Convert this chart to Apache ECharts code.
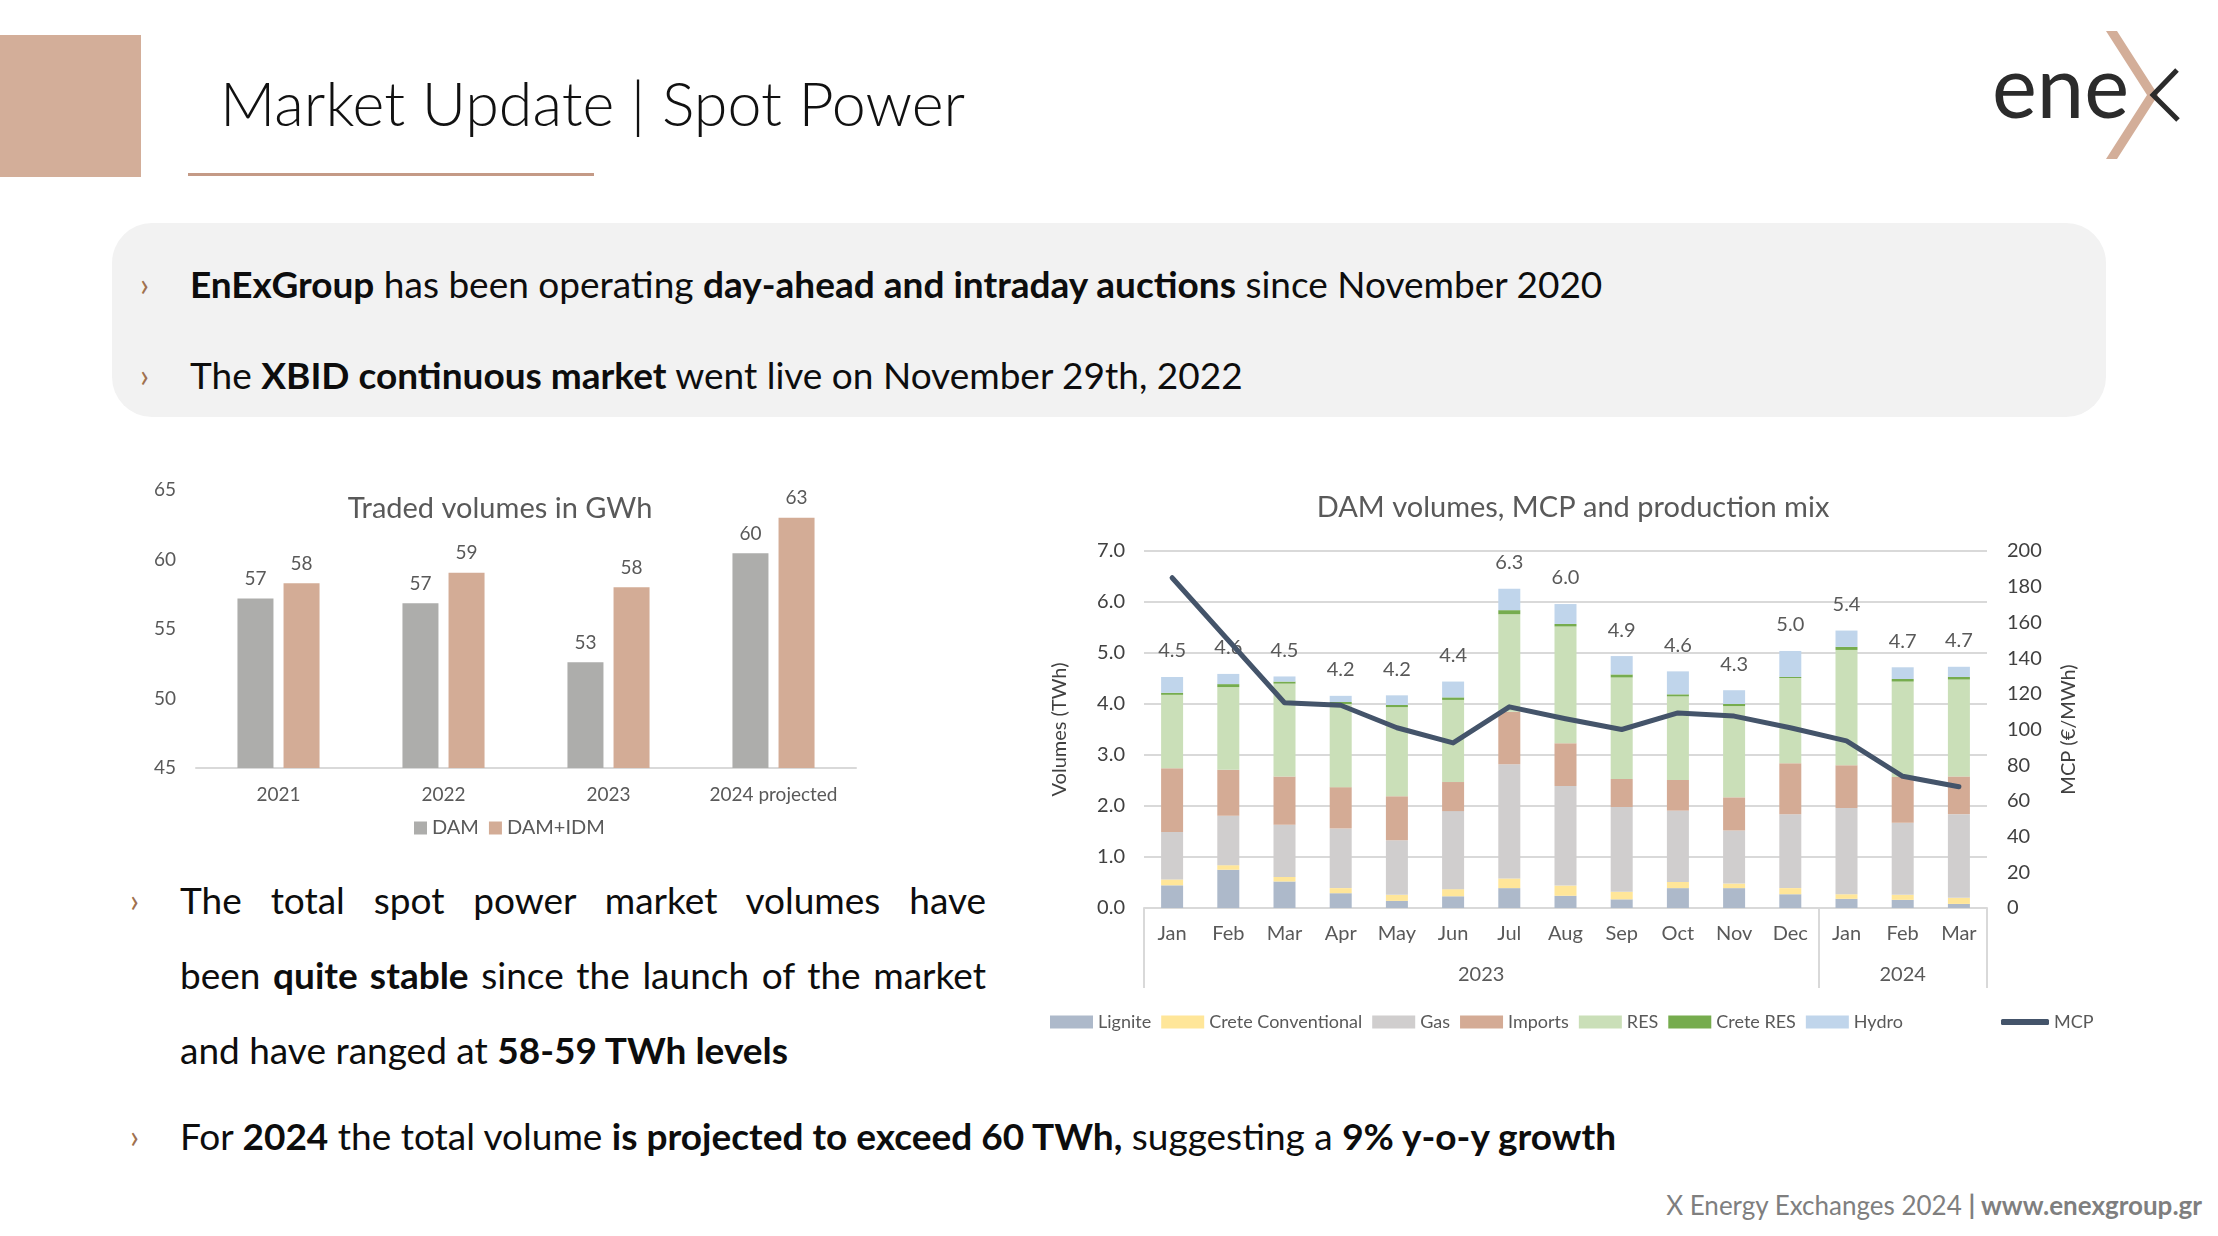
<!DOCTYPE html>
<html>
<head>
<meta charset="utf-8">
<title>Market Update | Spot Power</title>
<script src="https://cdn.jsdelivr.net/npm/echarts@6/dist/echarts.min.js"></script>
<style>
  html, body { margin: 0; padding: 0; width: 2218px; height: 1236px; background: #fff; overflow: hidden; }
  body { font-family: Lato, "Open Sans", sans-serif; color: #0d0d0d; position: relative; }
  .abs { position: absolute; }
  .line { position: absolute; white-space: nowrap; font-size: 37px; height: 50px; line-height: 50px; }
  .chev { position: absolute; font-size: 32px; color: #a0714f; height: 50px; line-height: 50px; }
  .just { text-align: justify; text-align-last: justify; white-space: normal; }
  b { font-weight: 700; }
  #chart { position: absolute; left: 0; top: 0; width: 2218px; height: 1236px; }
</style>
</head>
<body>
<!-- slide frame -->
<div class="abs" style="left:0;top:35px;width:141px;height:142px;background:#d3ae99;"></div>
<div class="abs" style="left:220px;top:62px;height:82px;line-height:82px;font-size:61px;font-weight:300;color:#111;white-space:nowrap;">Market Update | Spot Power</div>
<div class="abs" style="left:188px;top:173px;width:406px;height:3px;background:#c49a86;"></div>

<svg class="abs" style="left:1960px;top:20px;" width="240" height="150" viewBox="1960 20 240 150">
  <text x="1992" y="118" font-family="Lato, sans-serif" font-weight="400" font-size="88" fill="#2b2b2b" textLength="137" lengthAdjust="spacingAndGlyphs">ene</text>
  <polygon points="2106,31 2117,31 2158,95 2117,159 2106,159 2147,95" fill="#d3ae99"/>
  <polyline points="2177,70 2153,95 2178,120" fill="none" stroke="#2b2b2b" stroke-width="5"/>
</svg>

<div class="abs" style="left:112px;top:223px;width:1994px;height:194px;border-radius:40px;background:#f2f2f2;"></div>
<div class="chev" style="left:140px;top:259px;">›</div>
<div class="line" style="left:190px;top:259px;"><b>EnExGroup</b> has been operating <b>day-ahead and intraday auctions</b> since November 2020</div>
<div class="chev" style="left:140px;top:350px;">›</div>
<div class="line" style="left:190px;top:350px;">The <b>XBID continuous market</b> went live on November 29th, 2022</div>

<div class="chev" style="left:130px;top:875px;">›</div>
<div class="line just" style="left:180px;top:875px;width:806px;">The total spot power market volumes have</div>
<div class="line just" style="left:180px;top:950px;width:806px;">been <b>quite stable</b> since the launch of the market</div>
<div class="line" style="left:180px;top:1025px;">and have ranged at <b>58-59 TWh levels</b></div>
<div class="chev" style="left:130px;top:1111px;">›</div>
<div class="line" style="left:180px;top:1111px;">For <b>2024</b> the total volume <b>is projected to exceed 60 TWh,</b> suggesting a <b>9% y-o-y growth</b></div>

<div class="abs" style="right:16px;top:1190px;height:30px;line-height:30px;font-size:26px;color:#7f7f7f;white-space:nowrap;">X Energy Exchanges 2024 <b>| www.enexgroup.gr</b></div>

<div id="chart"></div>
<script>
// ---- Traded volumes (left chart) ----
var tradeYears = ['2021', '2022', '2023', '2024 projected'];
var damVolume = [57.2, 56.85, 52.6, 60.45];
var damIdmVolume = [58.3, 59.05, 58.0, 63.0];
var tradeTicks = [45, 50, 55, 60, 65];

// ---- DAM volumes, MCP and production mix (right chart) ----
var months = ['Jan', 'Feb', 'Mar', 'Apr', 'May', 'Jun', 'Jul', 'Aug', 'Sep', 'Oct', 'Nov', 'Dec', 'Jan', 'Feb', 'Mar'];
var periodYears = ['2023', '2024'];
var periodMonths = [12, 3];
var lignite   = [0.445, 0.75, 0.52, 0.29, 0.14, 0.23, 0.39, 0.24, 0.17, 0.39, 0.39, 0.27, 0.18, 0.16, 0.08];
var creteConv = [0.115, 0.09, 0.09, 0.10, 0.12, 0.14, 0.19, 0.20, 0.15, 0.12, 0.09, 0.12, 0.09, 0.10, 0.12];
var gas       = [0.93, 0.97, 1.02, 1.17, 1.07, 1.53, 2.24, 1.95, 1.66, 1.40, 1.04, 1.45, 1.69, 1.41, 1.64];
var imports   = [1.25, 0.90, 0.95, 0.81, 0.86, 0.57, 1.03, 0.84, 0.55, 0.60, 0.65, 1.00, 0.84, 0.90, 0.74];
var res       = [1.44, 1.62, 1.82, 1.63, 1.75, 1.61, 1.91, 2.29, 1.99, 1.64, 1.79, 1.67, 2.26, 1.87, 1.90];
var creteRes  = [0.04, 0.06, 0.04, 0.04, 0.04, 0.05, 0.08, 0.05, 0.06, 0.04, 0.04, 0.02, 0.06, 0.05, 0.05];
var hydro     = [0.31, 0.20, 0.10, 0.12, 0.19, 0.31, 0.42, 0.39, 0.36, 0.45, 0.27, 0.51, 0.32, 0.23, 0.20];
var mcp       = [185, 150, 115, 113.6, 101, 92.5, 112.7, 106, 100, 109.3, 107.5, 101, 93.6, 73.8, 67.9];

var mixSeries = [
  { name: 'Lignite', data: lignite, color: '#adb9ca' },
  { name: 'Crete Conventional', data: creteConv, color: '#ffe699' },
  { name: 'Gas', data: gas, color: '#d0cece' },
  { name: 'Imports', data: imports, color: '#d4ab95' },
  { name: 'RES', data: res, color: '#cadfb8' },
  { name: 'Crete RES', data: creteRes, color: '#76ac4e' },
  { name: 'Hydro', data: hydro, color: '#c0d5eb' }
];

var totals = months.map(function (m, i) {
  var s = 0;
  mixSeries.forEach(function (ser) { s += ser.data[i]; });
  return Math.round(s * 10) / 10;
});

// year level of the two-level category axis, on half-month steps
var yearAxisData = [];
var yearLabelAt = {};
var yearTickAt = { 0: true };
var pos = 0;
periodYears.forEach(function (y, i) {
  yearLabelAt[pos + periodMonths[i]] = y;
  pos += periodMonths[i] * 2;
  yearTickAt[pos] = true;
});
for (var k = 0; k <= months.length * 2; k++) {
  yearAxisData.push(yearLabelAt[k] || '');
}

var FONT = 'Lato, "Open Sans", sans-serif';
var grey = '#595959';
var dark = '#404040';
var gridLine = '#d9d9d9';

var myChart = echarts.init(document.getElementById('chart'));

var series = [
  {
    name: 'DAM', type: 'bar', xAxisIndex: 0, yAxisIndex: 0,
    data: damVolume, barWidth: 36, barGap: '28%',
    itemStyle: { color: '#adadab' },
    label: { show: true, position: 'top', distance: 10, color: grey, fontSize: 19, fontFamily: FONT,
      formatter: function (p) { return Math.round(p.value); } }
  },
  {
    name: 'DAM+IDM', type: 'bar', xAxisIndex: 0, yAxisIndex: 0,
    data: damIdmVolume, barWidth: 36,
    itemStyle: { color: '#d3ac96' },
    label: { show: true, position: 'top', distance: 10, color: grey, fontSize: 19, fontFamily: FONT,
      formatter: function (p) { return Math.round(p.value); } }
  }
];

mixSeries.forEach(function (s, idx) {
  var ser = {
    name: s.name, type: 'bar', stack: 'mix', xAxisIndex: 1, yAxisIndex: 1,
    data: s.data, barWidth: 22,
    itemStyle: { color: s.color }
  };
  if (idx === mixSeries.length - 1) {
    ser.label = {
      show: true, position: 'top', distance: 16, color: grey, fontSize: 20, fontFamily: FONT,
      formatter: function (p) { return totals[p.dataIndex].toFixed(1); }
    };
  }
  series.push(ser);
});

series.push({
  name: 'MCP', type: 'line', xAxisIndex: 1, yAxisIndex: 2,
  data: mcp, symbol: 'none', z: 5,
  lineStyle: { color: '#44546a', width: 5, cap: 'round', join: 'round' },
  itemStyle: { color: '#44546a' }
});

var option = {
  animation: false,
  textStyle: { fontFamily: FONT },
  title: [
    { text: 'Traded volumes in GWh', left: 495, top: 489, textAlign: 'center',
      textStyle: { fontSize: 29, fontWeight: 'normal', color: grey, fontFamily: FONT } },
    { text: 'DAM volumes, MCP and production mix', left: 1568, top: 488, textAlign: 'center',
      textStyle: { fontSize: 29, fontWeight: 'normal', color: grey, fontFamily: FONT } }
  ],
  legend: [
    { data: ['DAM', 'DAM+IDM'], left: 409, top: 813, icon: 'rect', itemWidth: 13, itemHeight: 13, itemGap: 10,
      textStyle: { color: grey, fontSize: 20, fontFamily: FONT } },
    { data: mixSeries.map(function (s) { return s.name; }), left: 1045, top: 1008, icon: 'rect',
      itemWidth: 43, itemHeight: 13, itemGap: 10,
      textStyle: { color: grey, fontSize: 18, fontFamily: FONT } },
    { data: ['MCP'], left: 1996, top: 1008, icon: 'roundRect', itemWidth: 48, itemHeight: 6,
      textStyle: { color: grey, fontSize: 18, fontFamily: FONT } }
  ],
  grid: [
    { left: 196, top: 490, width: 660, height: 278 },
    { left: 1144, top: 551, width: 843, height: 357 }
  ],
  xAxis: [
    { type: 'category', gridIndex: 0, data: tradeYears,
      axisLine: { lineStyle: { color: gridLine, width: 2 } }, axisTick: { show: false },
      axisLabel: { color: grey, fontSize: 19, margin: 17, fontFamily: FONT, interval: 0 } },
    { type: 'category', gridIndex: 1, data: months, position: 'bottom',
      axisLine: { lineStyle: { color: gridLine, width: 2 } }, axisTick: { show: false },
      axisLabel: { color: grey, fontSize: 20, margin: 16, fontFamily: FONT, interval: 0 } },
    { type: 'category', gridIndex: 1, data: yearAxisData, position: 'bottom', boundaryGap: false,
      axisLine: { show: false },
      axisTick: { show: true, length: 80, interval: function (i) { return !!yearTickAt[i]; },
        lineStyle: { color: gridLine, width: 2 } },
      axisLabel: { color: grey, fontSize: 20, margin: 57, interval: 0, fontFamily: FONT } }
  ],
  yAxis: [
    { type: 'value', gridIndex: 0, min: tradeTicks[0], max: tradeTicks[tradeTicks.length - 1], interval: 5,
      splitLine: { show: false }, axisLine: { show: false }, axisTick: { show: false },
      axisLabel: { color: grey, fontSize: 19, margin: 20, fontFamily: FONT } },
    { type: 'value', gridIndex: 1, min: 0, max: 7, interval: 1,
      name: 'Volumes (TWh)', nameLocation: 'middle', nameGap: 74, nameRotate: 90,
      nameTextStyle: { color: dark, fontSize: 20, fontFamily: FONT },
      splitLine: { lineStyle: { color: gridLine, width: 2 } }, axisLine: { show: false }, axisTick: { show: false },
      axisLabel: { color: dark, fontSize: 20, margin: 19, fontFamily: FONT,
        formatter: function (v) { return v.toFixed(1); } } },
    { type: 'value', gridIndex: 1, min: 0, max: 200, interval: 20, position: 'right',
      name: 'MCP (€/MWh)', nameLocation: 'middle', nameGap: 72, nameRotate: 90,
      nameTextStyle: { color: dark, fontSize: 20, fontFamily: FONT },
      splitLine: { show: false }, axisLine: { show: false }, axisTick: { show: false },
      axisLabel: { color: dark, fontSize: 20, margin: 20, fontFamily: FONT } }
  ],
  series: series
};

if (option && typeof option === "object") {
  myChart.setOption(option, true);
}
</script>
</body>
</html>
